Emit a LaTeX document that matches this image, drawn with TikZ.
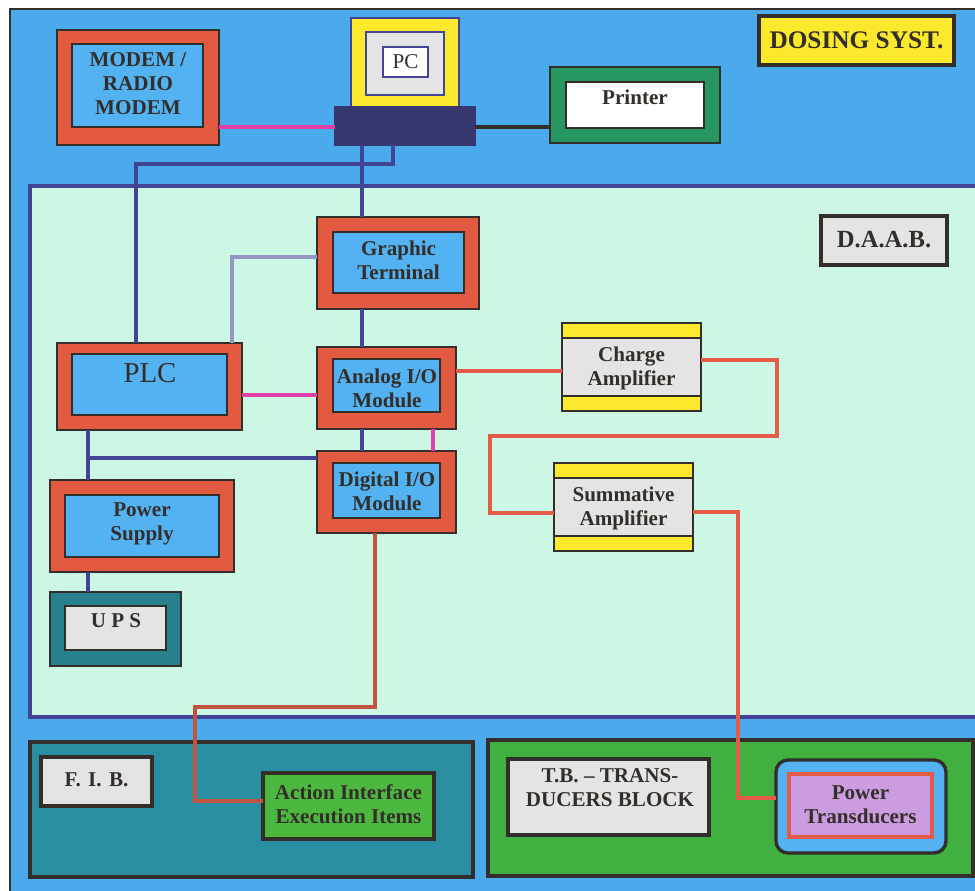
\documentclass[tikz,border=0pt]{standalone}
\usepackage{fontspec}
\setmainfont{Liberation Serif}
\usetikzlibrary{fit}

\definecolor{skyblue}{RGB}{74,170,236}
\definecolor{mint}{RGB}{204,247,228}
\definecolor{navy}{RGB}{68,68,150}
\definecolor{pcnavy}{RGB}{55,55,112}
\definecolor{brick}{RGB}{226,90,64}
\definecolor{cellblue}{RGB}{82,178,242}
\definecolor{wire}{RGB}{228,92,72}
\definecolor{rose}{RGB}{226,64,168}
\definecolor{lilac}{RGB}{152,150,196}
\definecolor{lemon}{RGB}{252,232,44}
\definecolor{pale}{RGB}{228,228,228}
\definecolor{jade}{RGB}{40,150,96}
\definecolor{sea}{RGB}{42,142,162}
\definecolor{upsteal}{RGB}{40,128,140}
\definecolor{grass}{RGB}{64,176,64}
\definecolor{leaf}{RGB}{76,184,64}
\definecolor{orchid}{RGB}{204,156,224}
\definecolor{rust}{RGB}{192,84,64}
\definecolor{ink}{RGB}{52,46,42}

\tikzset{
  frame/.style={draw=ink, line width=1.4pt, inner sep=0pt, outer sep=0pt},
  redbox/.style={frame, fill=brick},
  bluebox/.style={frame, line width=1.6pt, fill=cellblue},
  tagbox/.style={frame, line width=2.8pt, fill=pale},
  boxtext/.style={text=ink, inner sep=0pt, font=\fontsize{15}{17}\selectfont\bfseries, align=center},
  navyline/.style={draw=navy, line width=2.8pt},
  pinkline/.style={draw=rose, line width=2.2pt},
  redline/.style={draw=wire, line width=2.4pt}
}

\begin{document}
\begin{tikzpicture}[x=0.025cm, y=-0.025cm]
  \useasboundingbox (0,0) rectangle (975,891);
  \fill[white] (0,0) rectangle (975,891);
  \draw[ink, line width=1pt, fill=skyblue] (10,9) rectangle (990,905);
  \draw[navy, line width=2.2pt, fill=mint] (30,186) rectangle (995,717);

  % upper row
  \node[redbox, fit={(57,30) (219,145)}] (modemO) {};
  \node[bluebox, fit={(72,44) (203,127)}] (modembox) {};
  \node[boxtext] (modem) at (138,84) {MODEM /\\RADIO\\MODEM};

  \node[frame, draw=navy, line width=1.2pt, fill=lemon, fit={(351,18) (459,107)}] (pcO) {};
  \node[frame, draw=navy, line width=1.2pt, fill=pale, fit={(366,32) (444,95)}] (pcscreen) {};
  \node[frame, draw=navy, line width=1.2pt, fill=white, fit={(383,47) (428,77)}] (pcbox) {};
  \node[boxtext, font=\fontsize{15}{17}\selectfont] (pc) at (405.5,62) {PC};
  \node[frame, draw=pcnavy, fill=pcnavy, fit={(335,107) (475,145)}] (pcbase) {};

  \node[frame, fill=jade, fit={(550,67) (720,143)}] (printerO) {};
  \node[frame, line width=1.6pt, fill=white, fit={(566,82) (704,128)}] (printerbox) {};
  \node[boxtext, anchor=base] (printer) at (635,105) {Printer};

  \node[frame, line width=2.8pt, fill=lemon, fit={(759,16) (954,65)}] (dosingbox) {};
  \node[boxtext, font=\fontsize{18}{20}\selectfont\bfseries] (dosing) at (856.5,40) {DOSING SYST.};

  % D.A.A.B.
  \node[tagbox, fit={(821,216) (947,265)}] (daabbox) {};
  \node[boxtext, font=\fontsize{17.5}{20}\selectfont\bfseries] (daab) at (884,240) {D.A.A.B.};

  \node[redbox, fit={(317,217) (479,309)}] (gtO) {};
  \node[bluebox, fit={(333,232) (464,293)}] (gtbox) {};
  \node[boxtext] (gt) at (398.5,260) {Graphic\\Terminal};

  \node[redbox, fit={(57,343) (242,430)}] (plcO) {};
  \node[bluebox, fit={(72,354) (227,415)}] (plcbox) {};
  \node[text=ink, font=\fontsize{20.5}{22}\selectfont, anchor=base, inner sep=0pt] (plc) at (150,383) {PLC};

  \node[redbox, fit={(317,347) (456,429)}] (anaO) {};
  \node[bluebox, fit={(333,359) (440,412)}] (anabox) {};
  \node[boxtext] (ana) at (387,388) {Analog I/O\\Module};

  \node[redbox, fit={(317,451) (456,533)}] (digO) {};
  \node[bluebox, fit={(333,463) (440,518)}] (digbox) {};
  \node[boxtext] (dig) at (387,491) {Digital I/O\\Module};

  \node[redbox, fit={(50,480) (234,572)}] (psO) {};
  \node[bluebox, fit={(65,495) (219,557)}] (psbox) {};
  \node[boxtext] (ps) at (142,524) {Power\\Supply};

  \node[frame, fill=upsteal, fit={(50,592) (181,666)}] (upsO) {};
  \node[frame, line width=1.6pt, fill=pale, fit={(65,606) (166,650)}] (upsbox) {};
  \node[boxtext, anchor=base] (ups) at (116,628) {U P S};

  \node[frame, fill=pale, fit={(562,323) (701,411)}] (charge) {};
  \draw[ink, line width=1.4pt, fill=lemon] (562,323) rectangle (701,338);
  \draw[ink, line width=1.4pt, fill=lemon] (562,396) rectangle (701,411);
  \node[boxtext] (chargetxt) at (631.5,368) {Charge\\Amplifier};

  \node[frame, fill=pale, fit={(554,463) (693,551)}] (summ) {};
  \draw[ink, line width=1.4pt, fill=lemon] (554,463) rectangle (693,478);
  \draw[ink, line width=1.4pt, fill=lemon] (554,536) rectangle (693,551);
  \node[boxtext] (summtxt) at (623.5,508) {Summative\\Amplifier};

  % lower row
  \node[frame, line width=2.2pt, fill=sea, fit={(30,742) (473,877)}] (fib) {};
  \node[tagbox, fit={(41,757) (152,806)}] (fibbox) {};
  \node[boxtext] (fibtag) at (96.5,780) {F.\hspace{0.35em}I.\hspace{0.35em}B.};
  \node[frame, line width=2.2pt, fill=leaf, fit={(263,773) (434,839)}] (action) {};
  \node[boxtext] (actiontxt) at (348.5,804) {Action Interface\\Execution Items};

  \node[frame, line width=2.2pt, fill=grass, fit={(488,740) (973,876)}] (tb) {};
  \node[tagbox, fit={(508,759) (709,835)}] (tbbox) {};
  \node[boxtext] (tbtag) at (610,788) {T.B. -- TRANS-\\DUCERS BLOCK};
  \node[frame, line width=2.4pt, fill=cellblue, rounded corners=8.5pt, fit={(776,760) (946,853)}] (ptO) {};
  \node[frame, draw=wire, line width=2.4pt, fill=orchid, fit={(789,774) (932,837)}] (ptbox) {};
  \node[boxtext] (pt) at (860.5,805) {Power\\Transducers};

  % wiring
  \coordinate (yA) at (0,127);
  \coordinate (xA) at (362,0);
  \coordinate (xB) at (433,0);
  \coordinate (yB) at (0,395);
  \coordinate (yC) at (0,371);
  \coordinate (xD) at (88,0);
  \draw[pinkline] (modemO.east |- yA) -- (pcbase.west |- yA);
  \draw[ink, line width=2.6pt] (pcbase.east |- yA) -- (printerO.west |- yA);

  \coordinate (bend1) at (393,164);
  \coordinate (bend2) at (136,164);
  \draw[navyline] (pcbase.south -| bend1) -- (bend1) -- (bend2) -- (plcO.north -| bend2);
  \draw[navyline] (pcbase.south -| xA) -- (gtO.north -| xA);
  \draw[navyline] (gtO.south -| xA) -- (anaO.north -| xA);
  \draw[navyline] (anaO.south -| xA) -- (digO.north -| xA);

  \coordinate (bend3) at (232,257);
  \draw[lilac, line width=2.4pt] (gtO.west |- bend3) -- (bend3) -- (plcO.north -| bend3);

  \draw[pinkline] (plcO.east |- yB) -- (anaO.west |- yB);
  \draw[pinkline] (anaO.south -| xB) -- (digO.north -| xB);

  \draw[redline] (anaO.east |- yC) -- (charge.west |- yC);
  \coordinate (bend4) at (777,360);
  \coordinate (bend5) at (777,436);
  \coordinate (bend6) at (490,436);
  \coordinate (bend7) at (490,513);
  \draw[redline] (charge.east |- bend4) -- (bend4) -- (bend5) -- (bend6) -- (bend7) -- (summ.west |- bend7);
  \coordinate (bend8) at (738,512);
  \coordinate (bend9) at (738,798);
  \draw[redline] (summ.east |- bend8) -- (bend8) -- (bend9) -- (ptO.west |- bend9);

  \coordinate (bend10) at (88,458);
  \draw[navyline] (plcO.south -| xD) -- (psO.north -| xD);
  \draw[navyline] (bend10) -- (digO.west |- bend10);
  \draw[navyline] (psO.south -| xD) -- (upsO.north -| xD);

  \coordinate (bend11) at (375,707);
  \coordinate (bend12) at (195,707);
  \coordinate (bend13) at (195,801);
  \draw[rust, line width=2.4pt] (digO.south -| bend11) -- (bend11) -- (bend12) -- (bend13) -- (action.west |- bend13);
\end{tikzpicture}
\end{document}
